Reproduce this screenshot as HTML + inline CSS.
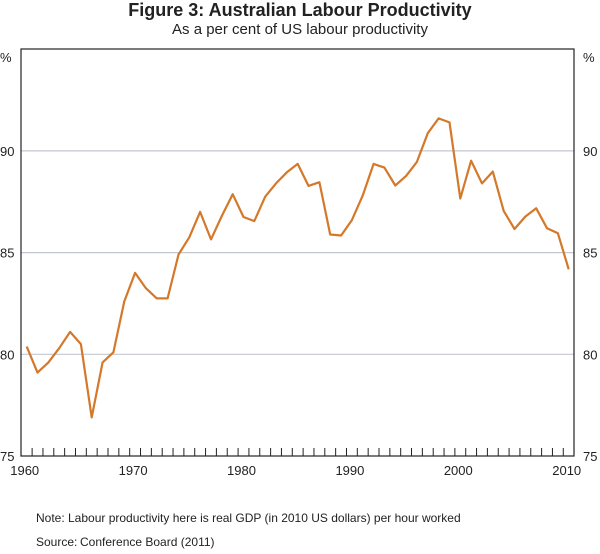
<!DOCTYPE html>
<html><head><meta charset="utf-8"><style>
body{margin:0;background:#fff;}
svg text{font-family:"Liberation Sans",Arial,sans-serif;fill:#222;}
</style></head><body>
<svg width="600" height="549" viewBox="0 0 600 549">
<text x="300" y="16" text-anchor="middle" font-size="18" font-weight="bold">Figure 3: Australian Labour Productivity</text>
<text x="300" y="34" text-anchor="middle" font-size="15">As a per cent of US labour productivity</text>
<g id="grid"></g>
<rect x="21" y="49" width="553" height="407" fill="none" stroke="#222" stroke-width="1.2"/>
<g id="ticks"></g>
<g id="labels"></g>
<path id="line" fill="none" stroke="#d4782a" stroke-width="2.2" stroke-linejoin="round"/>
<text x="0" y="62" font-size="13">%</text>
<text x="583" y="62" font-size="13">%</text>
<text x="36" y="522" font-size="12">Note:</text>
<text x="68" y="522" font-size="12">Labour productivity here is real GDP (in 2010 US dollars) per hour worked</text>
<text x="36" y="546" font-size="12">Source:</text>
<text x="80" y="546" font-size="12">Conference Board (2011)</text>
</svg>
<script>
const years=[1960,1961,1962,1963,1964,1965,1966,1967,1968,1969,1970,1971,1972,1973,1974,1975,1976,1977,1978,1979,1980,1981,1982,1983,1984,1985,1986,1987,1988,1989,1990,1991,1992,1993,1994,1995,1996,1997,1998,1999,2000,2001,2002,2003,2004,2005,2006,2007,2008,2009,2010];
const values=[80.38,79.1,79.6,80.3,81.1,80.5,76.9,79.6,80.1,82.6,84.0,83.25,82.75,82.75,84.9,85.75,87.0,85.65,86.8,87.87,86.75,86.55,87.75,88.4,88.95,89.36,88.28,88.46,85.89,85.84,86.6,87.8,89.36,89.18,88.3,88.77,89.46,90.87,91.6,91.4,87.66,89.52,88.4,88.98,87.05,86.16,86.77,87.18,86.2,85.95,84.18];
const yTicks=[75,80,85,90];
const xLabels=[1960,1970,1980,1990,2000,2010];
const NS="http://www.w3.org/2000/svg";
const xS=y=>26.7+(y-1960)*10.84;
const yS=v=>456-(v-75)*20.34;
const grid=document.getElementById('grid'),ticks=document.getElementById('ticks'),labels=document.getElementById('labels');
function mk(tag,attrs,parent){const e=document.createElementNS(NS,tag);for(const k in attrs)e.setAttribute(k,attrs[k]);parent.appendChild(e);return e;}
yTicks.forEach(v=>{
 if(v>75){const l=mk('line',{x1:21,x2:574,y1:yS(v),y2:yS(v),stroke:'#c4c8d0','stroke-width':1.2},grid);
 
 }
 const t1=mk('text',{x:0,y:yS(v)+5,'font-size':13},labels);t1.textContent=v;
 
 
 const t2=mk('text',{x:583,y:yS(v)+5,'font-size':13},labels);t2.textContent=v;
 
 
});
for(let i=0;i<years.length-1;i++){const x=xS(years[i])+5.42;
 const l=mk('line',{x1:x,x2:x,y1:448,y2:456,stroke:'#222','stroke-width':1},ticks);
 
 }
xLabels.forEach(y=>{const t=mk('text',{x:xS(y)-2,y:475,'font-size':13,'text-anchor':'middle'},labels);t.textContent=y;
 
 });
document.getElementById('line').setAttribute('d',values.map((v,i)=>(i?'L':'M')+xS(years[i]).toFixed(1)+','+yS(v).toFixed(1)).join(''));
</script>
</body></html>
